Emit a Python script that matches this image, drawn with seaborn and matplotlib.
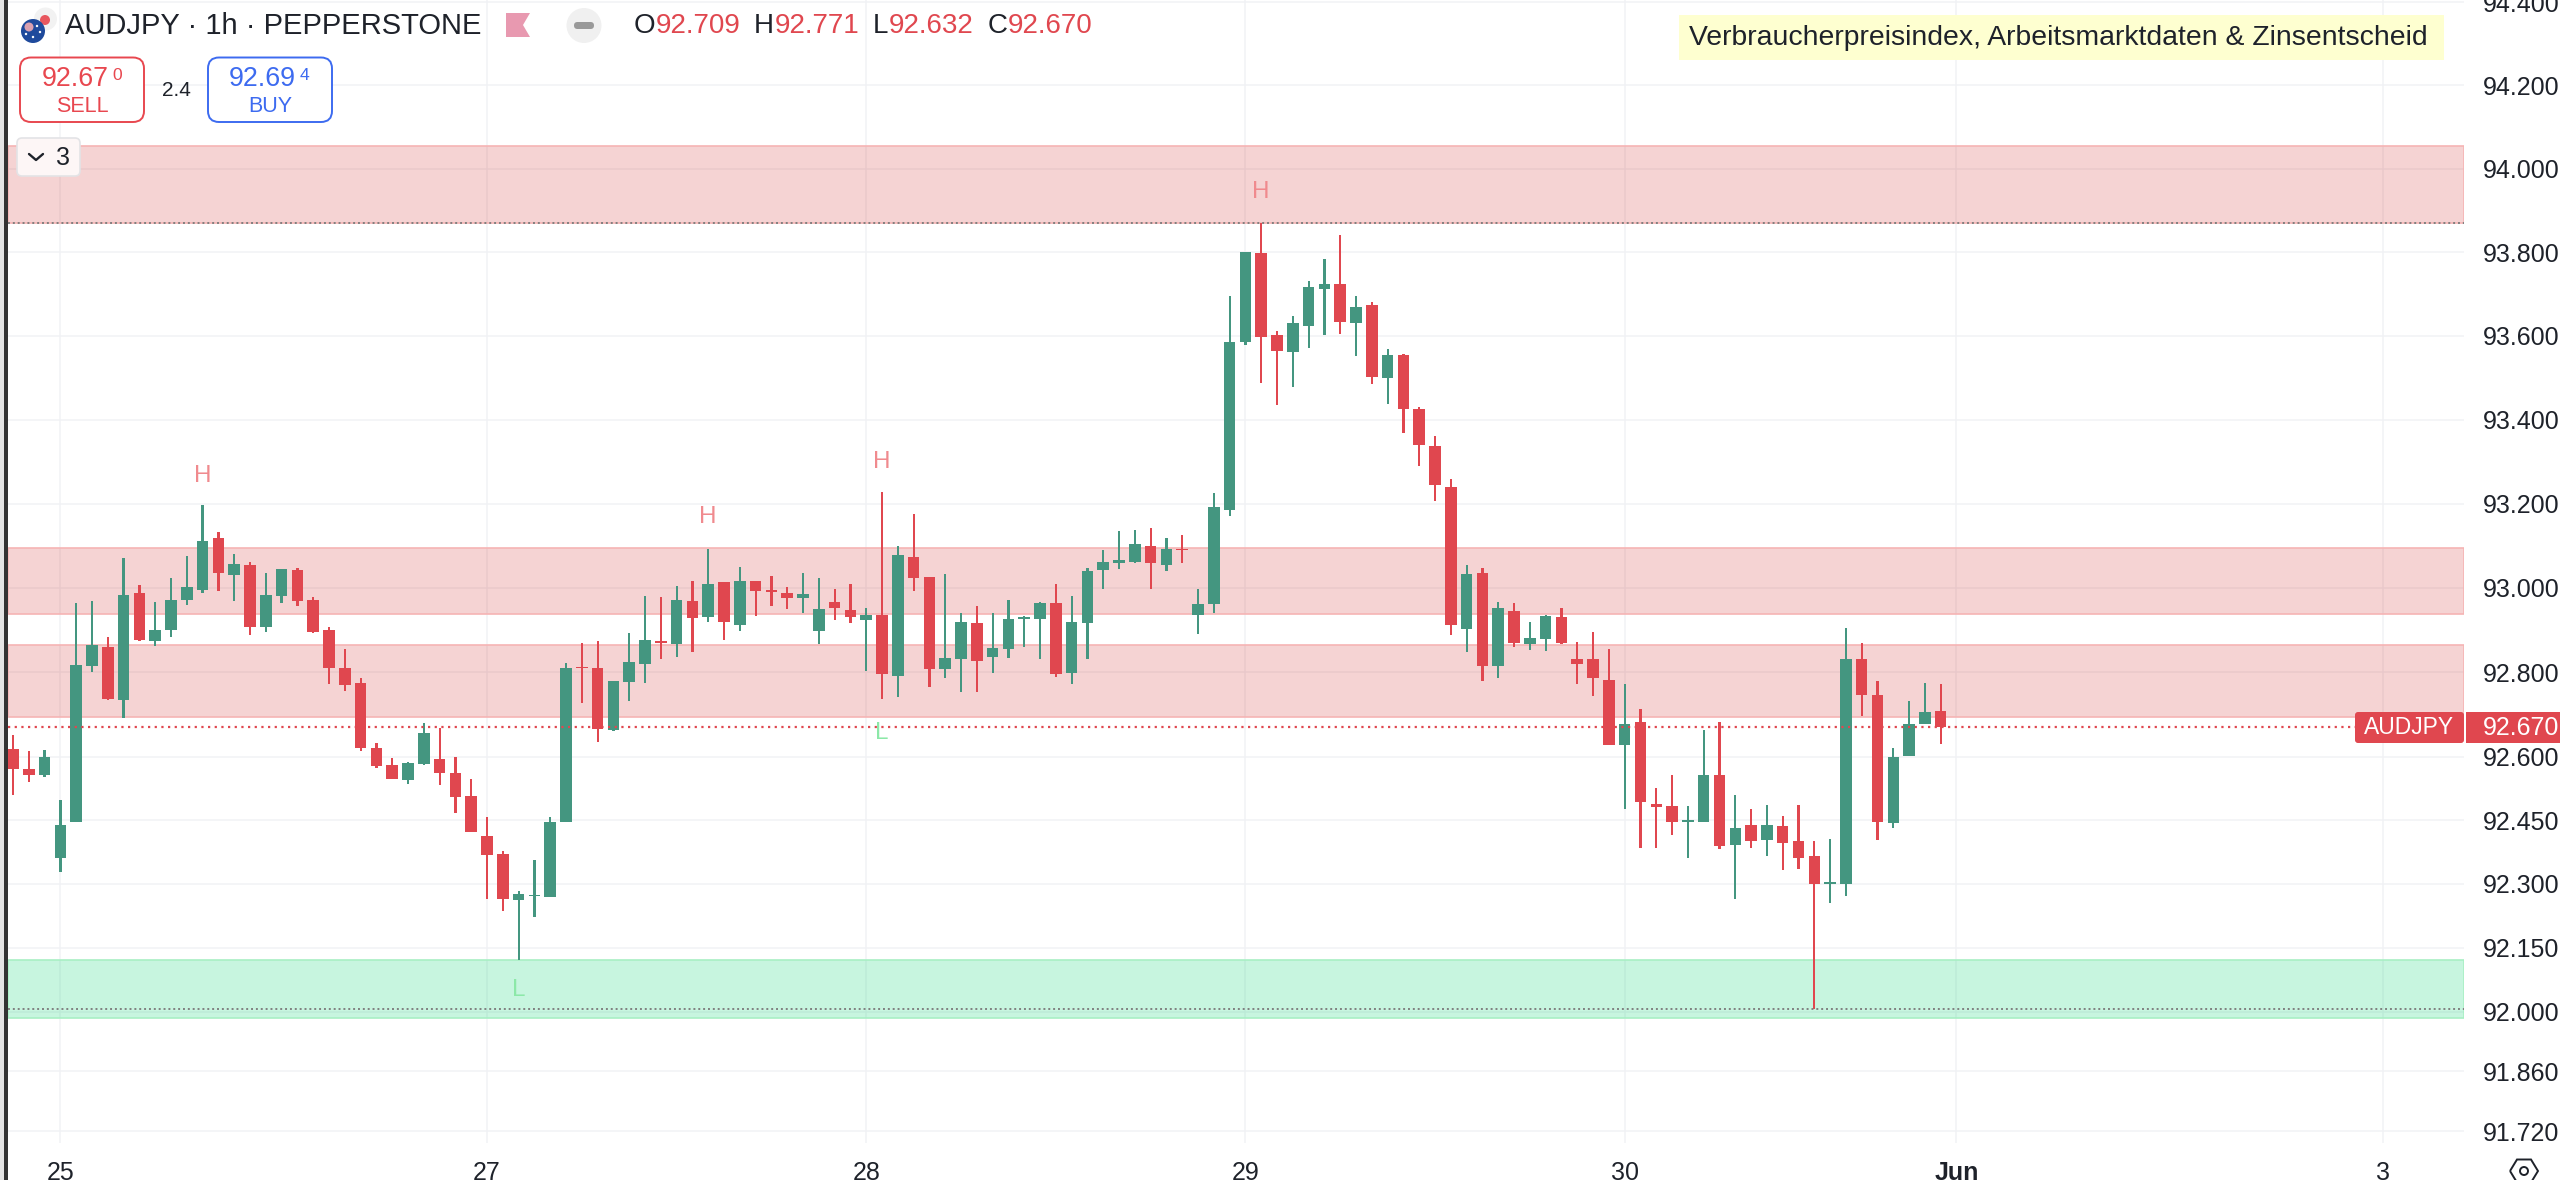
import numpy as np
import matplotlib
matplotlib.use("Agg")
import matplotlib.pyplot as plt
from matplotlib.patches import Rectangle, FancyBboxPatch, Circle, Polygon
from matplotlib.ticker import NullLocator, FixedLocator, FixedFormatter
import seaborn as sns

# ---- data (hours since the "25" session mark) ----
candle_hours = list(range(-3, 120))
opens = [
    92.618, 92.571, 92.557, 92.360, 92.447, 92.815, 92.859, 92.735, 92.987, 92.873,
    92.900, 92.972, 92.994, 93.119, 93.031, 93.054, 92.908, 92.981, 93.042, 92.971,
    92.901, 92.811, 92.774, 92.620, 92.581, 92.545, 92.583, 92.595, 92.562, 92.508,
    92.414, 92.370, 92.262, 92.271, 92.270, 92.446, 92.813, 92.810, 92.663, 92.777,
    92.819, 92.873, 92.867, 92.968, 92.930, 93.013, 92.912, 93.015, 92.994, 92.987,
    92.976, 92.898, 92.966, 92.948, 92.923, 92.936, 92.791, 93.073, 93.025, 92.808,
    92.831, 92.916, 92.836, 92.856, 92.926, 92.926, 92.964, 92.799, 92.917, 93.042,
    93.058, 93.062, 93.100, 93.055, 93.093, 92.935, 92.961, 93.184, 93.584, 93.798,
    93.602, 93.561, 93.624, 93.712, 93.723, 93.631, 93.674, 93.498, 93.553, 93.425,
    93.336, 93.240, 92.903, 93.035, 92.815, 92.946, 92.867, 92.879, 92.930, 92.831,
    92.831, 92.782, 92.628, 92.683, 92.489, 92.484, 92.446, 92.445, 92.556, 92.391,
    92.440, 92.403, 92.436, 92.401, 92.365, 92.300, 92.299, 92.831, 92.745, 92.443,
    92.601, 92.677, 92.708,
]
highs = [
    92.651, 92.614, 92.617, 92.498, 92.963, 92.969, 92.884, 93.071, 93.007, 92.966,
    93.022, 93.075, 93.196, 93.133, 93.079, 93.061, 93.035, 93.045, 93.047, 92.977,
    92.906, 92.854, 92.787, 92.632, 92.597, 92.588, 92.680, 92.669, 92.600, 92.547,
    92.458, 92.377, 92.284, 92.356, 92.457, 92.822, 92.868, 92.873, 92.778, 92.892,
    92.980, 92.977, 93.004, 93.017, 93.093, 93.013, 93.050, 93.015, 93.027, 93.002,
    93.036, 93.022, 92.998, 93.008, 92.953, 93.228, 93.100, 93.175, 93.025, 93.032,
    92.939, 92.957, 92.939, 92.971, 92.932, 92.967, 93.008, 92.980, 93.046, 93.089,
    93.134, 93.136, 93.142, 93.119, 93.126, 92.996, 93.226, 93.695, 93.800, 93.870,
    93.612, 93.646, 93.730, 93.783, 93.840, 93.695, 93.680, 93.569, 93.556, 93.430,
    93.360, 93.258, 93.055, 93.048, 92.966, 92.965, 92.918, 92.935, 92.951, 92.872,
    92.894, 92.854, 92.771, 92.713, 92.526, 92.556, 92.484, 92.664, 92.683, 92.509,
    92.477, 92.486, 92.459, 92.486, 92.400, 92.407, 92.905, 92.868, 92.780, 92.620,
    92.731, 92.775, 92.771,
]
lows = [
    92.509, 92.540, 92.551, 92.329, 92.447, 92.800, 92.735, 92.692, 92.873, 92.862,
    92.884, 92.959, 92.988, 92.993, 92.969, 92.888, 92.895, 92.963, 92.957, 92.893,
    92.771, 92.755, 92.614, 92.574, 92.547, 92.535, 92.581, 92.533, 92.466, 92.422,
    92.264, 92.237, 92.122, 92.222, 92.270, 92.446, 92.727, 92.635, 92.660, 92.731,
    92.775, 92.831, 92.835, 92.847, 92.919, 92.876, 92.897, 92.933, 92.957, 92.950,
    92.941, 92.867, 92.923, 92.916, 92.803, 92.736, 92.742, 92.993, 92.765, 92.787,
    92.752, 92.752, 92.799, 92.833, 92.859, 92.831, 92.789, 92.771, 92.831, 92.998,
    93.044, 93.059, 92.998, 93.039, 93.058, 92.891, 92.939, 93.170, 93.577, 93.487,
    93.435, 93.477, 93.570, 93.601, 93.605, 93.552, 93.484, 93.437, 93.368, 93.289,
    93.207, 92.889, 92.847, 92.780, 92.786, 92.860, 92.853, 92.851, 92.866, 92.771,
    92.744, 92.628, 92.477, 92.385, 92.385, 92.415, 92.361, 92.445, 92.383, 92.265,
    92.385, 92.366, 92.332, 92.336, 92.007, 92.255, 92.271, 92.697, 92.403, 92.431,
    92.601, 92.677, 92.630,
]
closes = [
    92.571, 92.557, 92.600, 92.439, 92.818, 92.864, 92.736, 92.984, 92.875, 92.899,
    92.972, 93.001, 93.112, 93.036, 93.056, 92.908, 92.984, 93.045, 92.969, 92.895,
    92.811, 92.770, 92.621, 92.577, 92.547, 92.586, 92.656, 92.561, 92.505, 92.422,
    92.369, 92.264, 92.277, 92.274, 92.447, 92.809, 92.810, 92.666, 92.778, 92.823,
    92.876, 92.870, 92.971, 92.928, 93.008, 92.919, 93.015, 92.992, 92.991, 92.976,
    92.985, 92.949, 92.951, 92.930, 92.936, 92.796, 93.077, 93.024, 92.808, 92.834,
    92.920, 92.827, 92.857, 92.925, 92.930, 92.964, 92.796, 92.918, 93.040, 93.061,
    93.066, 93.103, 93.058, 93.092, 93.089, 92.961, 93.193, 93.585, 93.800, 93.598,
    93.563, 93.630, 93.716, 93.723, 93.633, 93.669, 93.501, 93.553, 93.424, 93.340,
    93.243, 92.912, 93.032, 92.815, 92.951, 92.870, 92.880, 92.932, 92.870, 92.820,
    92.786, 92.628, 92.678, 92.492, 92.482, 92.446, 92.450, 92.558, 92.389, 92.431,
    92.402, 92.438, 92.397, 92.362, 92.301, 92.304, 92.831, 92.746, 92.446, 92.600,
    92.678, 92.706, 92.670,
]
price_ticks = [94.4, 94.2, 94.0, 93.8, 93.6, 93.4, 93.2, 93.0, 92.8, 92.6, 92.45, 92.3, 92.15, 92.0, 91.86, 91.72]
price_tick_labels = ["94.400", "94.200", "94.000", "93.800", "93.600", "93.400", "93.200", "93.000",
                     "92.800", "92.600", "92.450", "92.300", "92.150", "92.000", "91.860", "91.720"]
day_ticks = [0, 27, 51, 75, 99, 120, 147]
day_labels = ["25", "27", "28", "29", "30", "Jun", "3"]
resistance_zones = [(93.87, 94.053), (92.938, 93.094), (92.693, 92.864)]
support_zone = (91.985, 92.120)
zone_guides = [93.87, 92.005]
last_price = 92.670
swing_marks = [(9, 93.265, "H"), (41, 93.168, "H"), (52, 93.300, "H"), (76, 93.944, "H"),
               (29, 92.050, "L"), (52, 92.656, "L")]

RED = "#E0474F"
GREEN = "#449680"
GRID = "#F1F2F5"
TEXT = "#1E222A"

sns.set_theme(style="white")
plt.rcParams["font.family"] = ["Liberation Sans", "DejaVu Sans"]

W, H = 2560, 1180
fig = plt.figure(figsize=(W / 100, H / 100), dpi=100, facecolor="white")
ax = fig.add_axes([8 / W, 1 - 1143 / H, (2464 - 8) / W, 1143 / H])

hours = np.array(candle_hours)
o, h, l, c = map(np.array, (opens, highs, lows, closes))
assert len(hours) == len(o) == len(h) == len(l) == len(c)
is_red = c < o
tops = np.maximum(o, c)
bots = np.minimum(o, c)

for mask, col in ((is_red, RED), (~is_red, GREEN)):
    sns.barplot(x=hours[mask], y=(h - l)[mask], bottom=l[mask], orient="x", native_scale=True,
                width=0.14, color=col, saturation=1, errorbar=None, linewidth=0,
                edgecolor="none", zorder=2, ax=ax)
    sns.barplot(x=hours[mask], y=(tops - bots)[mask], bottom=bots[mask], orient="x", native_scale=True,
                width=0.73, color=col, saturation=1, errorbar=None, linewidth=0,
                edgecolor="none", zorder=2.1, ax=ax)

ax.set_yscale("log")
ax.set_ylim(91.692, 94.405)
ax.set_xlim(-3.316, 152.12)
ax.set_xlabel("")
ax.set_ylabel("")
ax.yaxis.tick_right()
ax.yaxis.set_major_locator(FixedLocator(price_ticks))
ax.yaxis.set_major_formatter(FixedFormatter(price_tick_labels))
ax.yaxis.set_minor_locator(NullLocator())
ax.set_xticks(day_ticks)
ax.set_xticklabels(day_labels)
ax.tick_params(axis="y", length=0, pad=13.5, labelsize=18, labelcolor=TEXT, which="major")
ax.tick_params(axis="x", length=0, pad=13, labelsize=18, labelcolor=TEXT)
for lab in ax.get_xticklabels():
    if lab.get_text() == "Jun":
        lab.set_fontweight("bold")
ax.set_axisbelow(True)
ax.grid(True, color=GRID, linewidth=1.1)
for s in ax.spines.values():
    s.set_visible(False)

for lo, hi in resistance_zones:
    ax.axhspan(lo, hi, facecolor=(205 / 255, 35 / 255, 35 / 255, 0.2),
               edgecolor="#F6B4B4", linewidth=1.2, zorder=1)
ax.axhspan(*support_zone, facecolor=(0.13, 0.85, 0.5, 0.25), edgecolor="#A8EFC4", linewidth=1.2, zorder=1)
for g in zone_guides:
    ax.axhline(g, color="#808080", linewidth=1.4, linestyle=(0, (1, 1.5)), zorder=3)
ax.axhline(last_price, color=RED, linewidth=1.6, linestyle=(0, (1, 2)), zorder=3)
for xh, yp, s in swing_marks:
    ax.text(xh, yp, s, ha="center", va="center", fontsize=17.5,
            color="#F08A8E" if s == "H" else "#8CE8A8", zorder=4)

# ---- interface chrome, in pixel coordinates ----
ui = fig.add_axes([0, 0, 1, 1], facecolor="none", zorder=10)
ui.set_xlim(0, W)
ui.set_ylim(H, 0)
ui.axis("off")

ui.add_patch(Rectangle((0, 0), 4, H, facecolor="#E4E4E4", edgecolor="none"))
ui.add_patch(Rectangle((4, 0), 3.5, H, facecolor="#333333", edgecolor="none"))

# symbol icon
ui.add_patch(Circle((45.5, 19), 11.5, facecolor="#F2F2F2", edgecolor="none"))
ui.add_patch(Circle((45, 20), 5, facecolor="#E8575F", edgecolor="none"))
ui.add_patch(Circle((33, 31), 12, facecolor="#1F4A9C", edgecolor="none"))
ui.add_patch(Circle((29, 27), 4.5, facecolor="#D9A0B0", edgecolor="none"))
for sx, sy in [(37, 26), (40, 32), (33, 37), (26, 34)]:
    ui.add_patch(Circle((sx, sy), 1.2, facecolor="white", edgecolor="none"))
ui.text(65, 26, "AUDJPY · 1h · PEPPERSTONE", fontsize=21, color=TEXT, ha="left", va="center")
ui.add_patch(Polygon([(506, 13), (530, 13), (523, 25), (530, 37), (506, 37)], closed=True,
                     facecolor="#E899B0", edgecolor="none"))
ui.add_patch(Circle((584, 25.5), 17.5, facecolor="#F0F0F0", edgecolor="none"))
ui.add_patch(FancyBboxPatch((574, 22), 20, 7, boxstyle="round,pad=0,rounding_size=3.5",
                            facecolor="#999999", edgecolor="none"))

for x, s, col in [(634, "O", TEXT), (655.5, "92.709", RED), (754, "H", TEXT), (775, "92.771", RED),
                  (873, "L", TEXT), (889, "92.632", RED), (988, "C", TEXT), (1008, "92.670", RED)]:
    ui.text(x, 26, s, fontsize=20, color=col, ha="left", va="center")

# sell / buy boxes
for x0, x1, col, main, sup, word, xt, xs, xw in [
    (20, 144, "#E8474F", "92.67", "0", "SELL", 41.5, 117, 82),
    (208, 332, "#3D6BF0", "92.69", "4", "BUY", 229, 305, 270),
]:
    ui.add_patch(FancyBboxPatch((x0, 57.5), x1 - x0, 64.5, boxstyle="round,pad=0,rounding_size=11",
                                facecolor="white", edgecolor=col, linewidth=1.4))
    ui.text(xt, 79.5, main, fontsize=19.3, color=col, ha="left", va="center", fontweight="normal")
    ui.text(xs, 76, sup, fontsize=12.6, color=col, ha="center", va="center")
    ui.text(xw, 106, word, fontsize=15.5, color=col, ha="center", va="center")
ui.text(176, 90, "2.4", fontsize=15, color=TEXT, ha="center", va="center")

# collapse box
ui.add_patch(FancyBboxPatch((17, 138), 63, 38, boxstyle="round,pad=0,rounding_size=5",
                            facecolor="#FDF6F6", edgecolor="#E3E3E6", linewidth=1.2))
ui.plot([29, 36, 43], [154, 160, 154], color=TEXT, linewidth=1.7)
ui.text(63, 158, "3", fontsize=18, color=TEXT, ha="center", va="center")

# event banner
ui.add_patch(Rectangle((1679, 15), 765, 44.5, facecolor="#FEFFD0", edgecolor="none"))
ui.text(1689, 38, "Verbraucherpreisindex, Arbeitsmarktdaten & Zinsentscheid", fontsize=20.4,
        color=TEXT, ha="left", va="center")

# last price tags
ui.add_patch(FancyBboxPatch((2355, 712), 109, 31, boxstyle="round,pad=0,rounding_size=3",
                            facecolor=RED, edgecolor="none"))
ui.add_patch(Rectangle((2466, 712), 94, 31, facecolor=RED, edgecolor="none"))
ui.text(2409.5, 728, "AUDJPY", fontsize=16.5, color="white", ha="center", va="center")
ui.text(2483, 728, "92.670", fontsize=18, color="white", ha="left", va="center")

# settings hexagon
ui.add_patch(Polygon([(2510, 1171), (2517, 1159.5), (2531, 1159.5), (2538, 1171), (2531, 1182.5), (2517, 1182.5)],
                     closed=True, facecolor="none", edgecolor=TEXT, linewidth=1.4))
ui.add_patch(Circle((2524, 1171), 4, facecolor="none", edgecolor=TEXT, linewidth=1.4))

fig.savefig("out.png", dpi=100, facecolor="white")
